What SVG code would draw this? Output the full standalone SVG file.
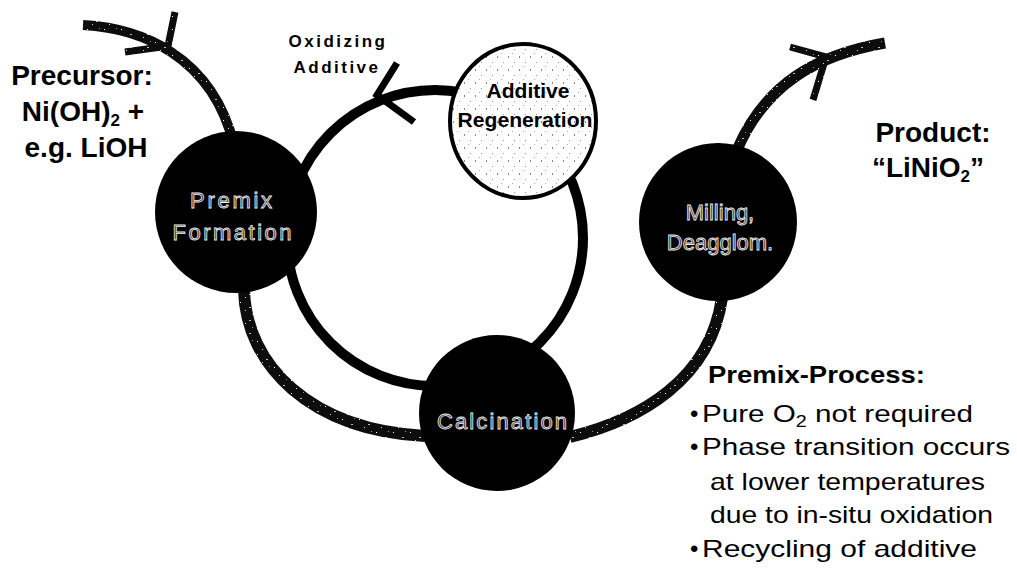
<svg xmlns="http://www.w3.org/2000/svg" width="1017" height="571" viewBox="0 0 1017 571">
  <defs>
    <!-- dark grainy fill used for the feed/product strokes -->
    <pattern id="grain" width="17" height="13" patternUnits="userSpaceOnUse">
      <rect width="17" height="13" fill="#0d0d0d"/>
      <rect x="2" y="3" width="1" height="1" fill="#fff"/>
      <rect x="11" y="8" width="2" height="1" fill="#bbb"/>
      <rect x="7" y="11" width="1" height="1" fill="#ddd"/>
      <rect x="14" y="2" width="1" height="1" fill="#999"/>
    </pattern>
    <!-- light stippled fill of the regeneration node -->
    <pattern id="stipple" width="11" height="13" patternUnits="userSpaceOnUse">
      <rect width="11" height="13" fill="#fff"/>
      <rect x="2" y="4" width="1" height="2" fill="#888"/>
      <rect x="8" y="10" width="1" height="1" fill="#999"/>
      <rect x="6" y="1" width="1" height="1" fill="#aaa"/>
    </pattern>
    <style>
      .ring { fill: none; stroke: #000; stroke-width: 10; }
      .feed { fill: none; stroke: url(#grain); stroke-linecap: butt; }
      .head { fill: none; stroke-width: 7; stroke-linejoin: miter; }
      .node { fill: #000; }
      .nlabel { font-family: "Liberation Sans", Arial, sans-serif; font-size: 22px; fill: #333; stroke: #eee; stroke-width: 0.8; text-anchor: middle; }
      .big { font-family: "Liberation Sans", Arial, sans-serif; font-size: 28px; font-weight: bold; fill: #000; text-anchor: middle; }
      .small { font-family: "Liberation Sans", Arial, sans-serif; font-size: 17px; font-weight: bold; fill: #000; text-anchor: middle; letter-spacing: 2.5px; }
      .regen { font-family: "Liberation Sans", Arial, sans-serif; font-size: 20px; font-weight: bold; fill: #000; text-anchor: middle; }
      .note { font-family: "Liberation Sans", Arial, sans-serif; font-size: 24px; fill: #000; }
    </style>
  </defs>

  <rect width="1017" height="571" fill="#fff"/>

  <g id="connectors">
    <!-- inner recycling loop -->
    <circle class="ring" cx="435" cy="238" r="148"/>
    <!-- arrowhead on the loop, pointing towards premix formation -->
    <path class="head" stroke="#000" d="M397,63 L377,95 L414,122"/>
    <!-- outer process path -->
    <path class="feed" stroke-width="12" d="M244,290 C246,365 310,430 425,436"/>
    <path class="feed" stroke-width="12" d="M570,437 C640,420 710,380 722,298"/>
    <!-- precursor feed -->
    <path class="feed" stroke-width="10" d="M83,25 C140,28 212,55 234,145"/>
    <path class="head" stroke="url(#grain)" d="M175,12 L168,46 L125,52"/>
    <!-- product discharge -->
    <path class="feed" stroke-width="11" d="M737,150 C765,85 815,55 885,43"/>
    <path class="head" stroke="url(#grain)" d="M790,47 L826,57 L813,100"/>
  </g>

  <g id="premix-formation">
    <circle class="node" cx="236" cy="212" r="81"/>
    <text class="nlabel" x="231" y="208" textLength="82">Premix</text>
    <text class="nlabel" x="232" y="240" textLength="119">Formation</text>
  </g>

  <g id="additive-regeneration">
    <ellipse cx="523" cy="121" rx="73" ry="77" fill="url(#stipple)" stroke="#000" stroke-width="4"/>
    <text class="regen" x="528" y="98" textLength="83" lengthAdjust="spacingAndGlyphs">Additive</text>
    <text class="regen" x="525" y="127" textLength="135" lengthAdjust="spacingAndGlyphs">Regeneration</text>
  </g>

  <g id="calcination">
    <circle class="node" cx="497" cy="413" r="78"/>
    <text class="nlabel" x="502" y="429" textLength="130">Calcination</text>
  </g>

  <g id="milling">
    <circle class="node" cx="718" cy="222" r="79"/>
    <text class="nlabel" x="720" y="220">Milling,</text>
    <text class="nlabel" x="720" y="250">Deagglom.</text>
  </g>

  <g id="oxidizing-additive">
    <text class="small" x="338" y="47">Oxidizing</text>
    <text class="small" x="337" y="73">Additive</text>
  </g>

  <g id="precursor">
    <text class="big" x="82" y="85">Precursor:</text>
    <text class="big" x="83" y="121">Ni(OH)<tspan font-size="17" dy="5">2</tspan><tspan dy="-5"> +</tspan></text>
    <text class="big" x="86" y="157">e.g. LiOH</text>
  </g>

  <g id="product">
    <text class="big" x="933" y="142">Product:</text>
    <text class="big" x="928" y="177">“LiNiO<tspan font-size="17" dy="5">2</tspan><tspan dy="-5">”</tspan></text>
  </g>

  <g id="premix-process">
    <text class="note" x="708" y="383" font-weight="bold" textLength="217" lengthAdjust="spacingAndGlyphs">Premix-Process:</text>
    <text class="note" x="690" y="422">•</text>
    <text class="note" x="702" y="422" textLength="271" lengthAdjust="spacingAndGlyphs">Pure O<tspan font-size="16" dy="5">2</tspan><tspan dy="-5"> not required</tspan></text>
    <text class="note" x="690" y="455">•</text>
    <text class="note" x="702" y="455" textLength="308" lengthAdjust="spacingAndGlyphs">Phase transition occurs</text>
    <text class="note" x="710" y="490" textLength="275" lengthAdjust="spacingAndGlyphs">at lower temperatures</text>
    <text class="note" x="710" y="523" textLength="283" lengthAdjust="spacingAndGlyphs">due to in-situ oxidation</text>
    <text class="note" x="690" y="557">•</text>
    <text class="note" x="702" y="557" textLength="275" lengthAdjust="spacingAndGlyphs">Recycling of additive</text>
  </g>
</svg>
